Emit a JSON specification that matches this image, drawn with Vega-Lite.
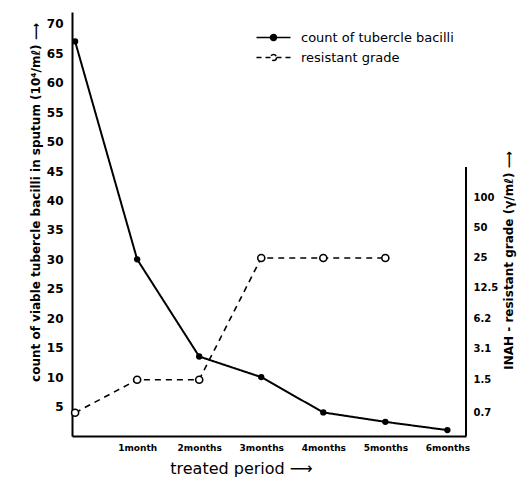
{
  "$schema": "https://vega.github.io/schema/vega-lite/v6.json",
  "width": 394,
  "height": 424,
  "autosize": {"type": "none"},
  "padding": {"left": 72, "top": 12, "right": 59, "bottom": 45},
  "background": "white",
  "config": {
    "view": {"stroke": null},
    "font": "DejaVu Sans",
    "axis": {
      "grid": false,
      "ticks": false,
      "tickSize": 0,
      "labelOverlap": false,
      "domainColor": "black",
      "domainWidth": 2,
      "labelColor": "black",
      "titleColor": "black",
      "labelFontWeight": "bold",
      "titleFontWeight": "bold"
    }
  },
  "datasets": {
    "count": [
      {"month": 0, "count": 67},
      {"month": 1, "count": 30},
      {"month": 2, "count": 13.5},
      {"month": 3, "count": 10},
      {"month": 4, "count": 4},
      {"month": 5, "count": 2.4},
      {"month": 6, "count": 1}
    ],
    "grade": [
      {"month": 0, "grade": 0.7},
      {"month": 1, "grade": 1.5},
      {"month": 2, "grade": 1.5},
      {"month": 3, "grade": 25},
      {"month": 4, "grade": 25},
      {"month": 5, "grade": 25}
    ]
  },
  "layer": [
    {
      "data": {"name": "count"},
      "layer": [
        {
          "mark": {"type": "line", "color": "black", "strokeWidth": 2},
          "encoding": {
            "x": {
              "field": "month",
              "type": "quantitative",
              "scale": {"domain": [-0.05, 6.3], "nice": false, "zero": false},
              "axis": {
                "values": [1, 2, 3, 4, 5, 6],
                "tickCount": 20,
                "labelExpr": "datum.value == 1 ? '1month' : datum.value + 'months'",
                "labelFontSize": 9,
                "labelPadding": 7,
                "labelOverlap": false,
                "title": "treated period ⟶",
                "titleFontSize": 16,
                "titleFontWeight": "normal",
                "titleX": 169,
                "titleY": 32,
                "titleBaseline": "middle",
                "titleAlign": "center"
              }
            },
            "y": {
              "field": "count",
              "type": "quantitative",
              "scale": {"domain": [0, 72], "nice": false},
              "axis": {
                "orient": "left",
                "values": [5, 10, 15, 20, 25, 30, 35, 40, 45, 50, 55, 60, 65, 70],
                "tickCount": 30,
                "labelExpr": "'' + datum.value",
                "labelFontSize": 12,
                "labelPadding": 9,
                "labelOverlap": false,
                "labelBound": false,
                "title": "count of viable tubercle bacilli in sputum (10⁴/mℓ) ⟶",
                "titleAngle": -90,
                "titleX": -37,
                "titleY": 190,
                "titleBaseline": "middle",
                "titleAlign": "center",
                "titleFontSize": 12
              }
            },
            "strokeDash": {
              "datum": "count of tubercle bacilli",
              "type": "nominal",
              "scale": {"domain": ["count of tubercle bacilli", "resistant grade"], "range": [[1, 0], [6, 5]]},
              "legend": {
                "orient": "none",
                "legendX": 195,
                "legendY": 19,
                "title": null,
                "padding": 0,
                "symbolSize": 100,
                "labelOffset": 21,
                "labelFontSize": 13,
                "labelFont": "DejaVu Sans",
                "labelColor": "black",
                "rowPadding": 6,
                "symbolStrokeWidth": 1.5,
                "symbolStrokeColor": "black",
                "encode": {
                  "symbols": {
                    "update": {
                      "shape": {"signal": "datum.value === 'resistant grade' ? 'M-3.4,0L-2.4,0M-1.6,0L-0.6,0M0.6,0L1.6,0M2.4,0L3.4,0M0.6,0A0.6,0.6,0,1,1,-0.6,0A0.6,0.6,0,1,1,0.6,0Z' : 'M-3.4,0L3.4,0M0.6,0A0.6,0.6,0,1,1,-0.6,0A0.6,0.6,0,1,1,0.6,0Z'"},
                      "fill": {"signal": "datum.value === 'resistant grade' ? 'white' : 'black'"},
                      "fillOpacity": {"value": 1},
                      "strokeDash": {"value": [1, 0]},
                      "stroke": {"value": "black"},
                      "strokeWidth": {"value": 1.5}
                    }
                  }
                }
              }
            }
          }
        },
        {
          "mark": {"type": "point", "filled": true, "color": "black", "size": 40, "opacity": 1},
          "encoding": {
            "x": {"field": "month", "type": "quantitative"},
            "y": {"field": "count", "type": "quantitative"}
          }
        }
      ]
    },
    {
      "data": {"name": "grade"},
      "layer": [
        {
          "mark": {"type": "line", "color": "black", "strokeWidth": 1.6},
          "encoding": {
            "x": {"field": "month", "type": "quantitative"},
            "y": {
              "field": "grade",
              "type": "quantitative",
              "scale": {"type": "log", "domain": [0.409, 7350], "nice": false},
              "axis": {
                "orient": "right",
                "values": [0.7, 1.5, 3.1, 6.2, 12.5, 25, 50, 100],
                "tickCount": 20,
                "labelExpr": "'' + datum.value",
                "domain": false,
                "labelFontSize": 10,
                "labelPadding": 7,
                "labelOverlap": false,
                "title": "INAH - resistant grade (γ/mℓ) ⟶",
                "titleAngle": -90,
                "titleX": 42,
                "titleY": 248,
                "titleBaseline": "middle",
                "titleAlign": "center",
                "titleFontSize": 12
              }
            },
            "strokeDash": {"datum": "resistant grade", "type": "nominal"}
          }
        },
        {
          "mark": {"type": "point", "filled": true, "fill": "white", "stroke": "black", "strokeWidth": 1.6, "size": 50, "opacity": 1},
          "encoding": {
            "x": {"field": "month", "type": "quantitative"},
            "y": {"field": "grade", "type": "quantitative"}
          }
        },
        {
          "mark": {"type": "rule", "color": "black", "strokeWidth": 2},
          "encoding": {
            "x": {"datum": 6.3, "type": "quantitative"},
            "y": {"datum": 0.409, "type": "quantitative"},
            "y2": {"datum": 205}
          }
        }
      ]
    }
  ],
  "resolve": {"scale": {"y": "independent"}}
}
